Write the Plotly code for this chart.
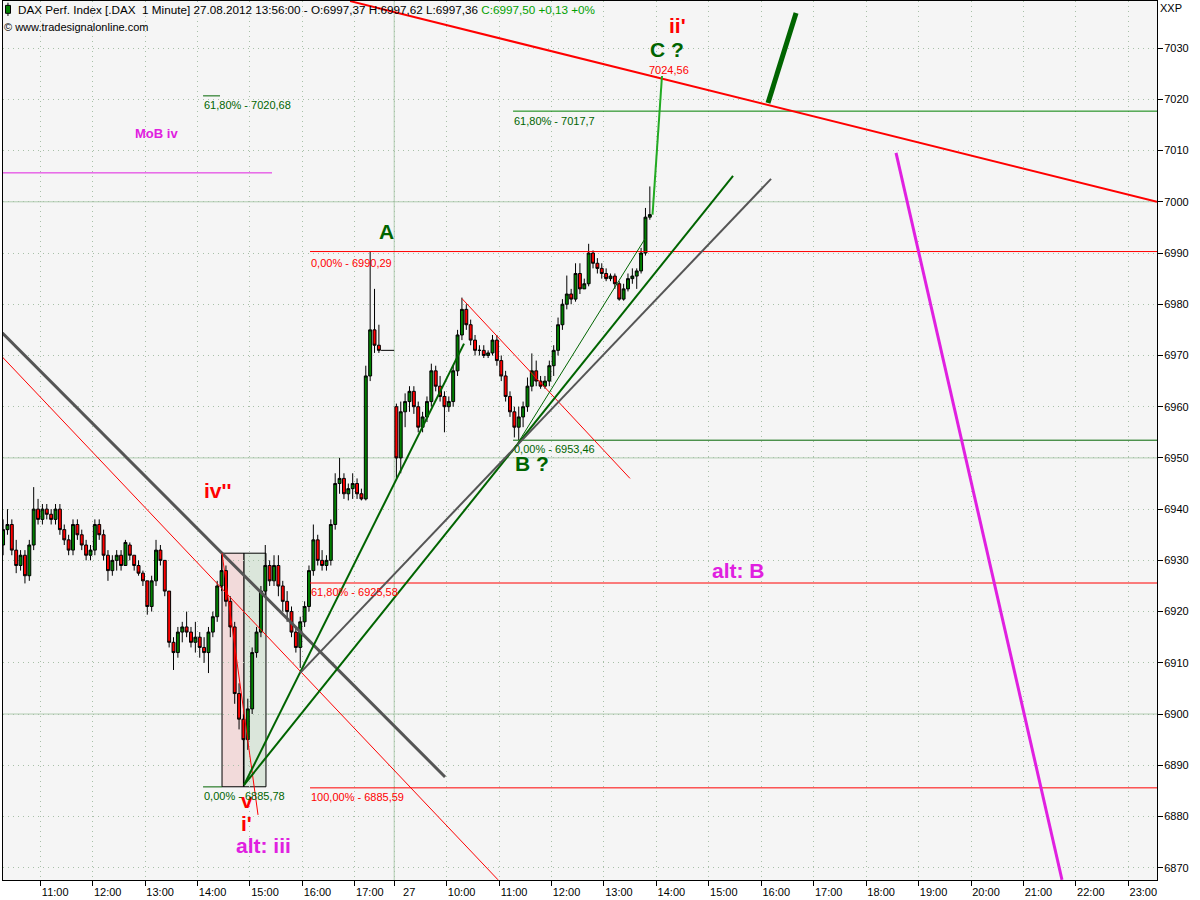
import plotly.graph_objects as go

# ---------------- data ----------------
interval_min = 5
# Friday 24.08.2012, 5-minute candles starting 10:15
day1_start = "10:15"
day1_open  = [6933,6936,6937,6932,6929,6931,6927,6933,6940,6938,6940,6939,6938,6940,6936,6934,6932,6937,6935,6933,
              6931,6932,6937,6935,6931,6928,6930,6931,6929,6933,6931,6929,6927.5,6926,6921,6926,6932,6930,6924,6914,
              6912,6916,6917,6916,6914,6915,6913,6912,6916,6919,6925,6928,6922,6917,6904,6899,6895,6901,6912,6916,
              6924,6929,6926,6929,6925,6922,6920,6916,6913,6918,6921,6928,6934,6930,6929,6930,6937,6945,6946,6943,
              6944,6945,6943,6942,6966,6975,6972,6971,6971,6971]
day1_high  = [6938,6940,6938,6934,6932,6932,6934,6944.3,6942,6941,6941,6940,6941,6941,6937,6935,6938,6938,6936,6934,
              6933,6938,6938,6936,6932,6931,6932,6932,6934,6933.5,6931,6930,6928,6926,6927,6934,6933,6930,6924,6915,
              6917,6918,6920,6917,6918,6916,6915,6917,6920,6926,6931.4,6929,6923,6918,6906,6900,6903,6913,6917,6925,
              6933,6930,6931,6931,6926,6924,6921,6917,6919,6922,6929,6937,6935,6932,6931,6938,6947,6950,6947,6945,
              6947,6946,6944,6968,6990.29,6983,6976,6971,6971,6971]
day1_low   = [6931,6935,6931,6927.5,6928,6925.5,6926,6932,6937,6937,6938,6937,6937,6935,6933,6931,6931,6934,6932,6930,
              6930,6931,6934,6930,6926,6927,6928,6928,6929,6930,6928,6927,6925,6919.4,6920,6925,6929,6923,6913,6908.6,
              6911,6914,6915,6913,6912,6911,6910,6908,6915,6918,6924,6921,6915,6902,6897,6885.8,6893,6900,6911,6915,
              6923,6925,6925,6923,6920,6918,6915,6912,6909,6917,6920,6927,6929,6928,6928,6929,6936,6943,6942,6941.7,
              6942,6942,6941.7,6941.7,6965,6970.5,6970.5,6971,6971,6971]
day1_close = [6936,6937,6932,6929,6931,6927,6933,6940,6938,6940,6939,6938,6940,6936,6934,6932,6937,6935,6933,6931,
              6932,6937,6935,6931,6928,6930,6931,6929,6933.5,6931,6929,6927.5,6926,6921,6926,6932,6930,6924,6914,6912,
              6916,6917,6916,6914,6915,6913,6912,6916,6919,6925,6928,6922,6917,6904,6899,6895,6901,6912,6916,6924,
              6929,6926,6929,6925,6922,6920,6916,6913,6918,6921,6928,6934,6930,6929,6930,6937,6945,6946,6943,6944,
              6945,6943,6942,6966,6975,6972,6971,6971,6971,6971]

# Monday 27.08.2012, 5-minute candles starting 09:00
day2_start = "09:00"
day2_open  = [6960,6950,6959,6961,6963,6960,6956,6958,6961,6967,6964,6962,6960,6961,6967,6974,6979,6976,6973,6971,
              6971,6970,6970.5,6973,6969,6966,6962,6959,6956,6958,6960,6964,6967,6965,6964,6965,6968,6971,6976,6980,
              6982,6981,6986,6983,6984,6990,6988,6987,6986,6985,6985.5,6984,6981,6983,6985,6985.5,6986.5,6990,6997]
day2_high  = [6960.6,6961,6962.6,6964,6964,6961,6959,6962,6968.4,6968,6966,6963,6962,6968,6975,6981.3,6980,6977,6974,6972,
              6972,6971,6974,6974,6970,6967,6963,6960,6960,6961,6965.7,6970.4,6969,6966,6966,6969,6972,6977.4,6981,6985.6,
              6983,6988,6988,6985,6991.8,6990.5,6989,6988,6987,6986,6986,6984.5,6984,6986,6987,6987,6991,6998.8,7003]
day2_low   = [6946,6947,6956,6959,6958.6,6955,6955,6957,6960,6963,6961,6955,6959,6960,6966,6973,6975,6972,6970,6970,
              6969.5,6969.5,6970,6968,6965,6961,6958,6954,6953.5,6956,6959,6963,6964,6963.5,6963.5,6964,6966,6970,6975,6979,
              6980,6980.5,6982,6983,6983.5,6987,6986,6985,6984.5,6984.5,6983,6980.7,6980.7,6982.5,6984,6983,6986,6989.5,6996.5]
day2_close = [6950,6959,6961,6963,6960,6956,6958,6961,6967,6964,6962,6960,6961,6967,6974,6979,6976,6973,6971,6971,
              6970,6970.5,6973,6969,6966,6962,6959,6956,6958,6960,6964,6967,6965,6964,6965,6968,6971,6976,6980,6982,
              6981,6986,6983,6984,6990,6988,6987,6986,6985,6985.5,6984,6981,6983,6985,6985.5,6986.5,6990,6997,6997.5]

# x-axis tick labels: (day, time) and label text
tick_times = [(1,"11:00"),(1,"12:00"),(1,"13:00"),(1,"14:00"),(1,"15:00"),(1,"16:00"),(1,"17:00"),
              (2,"09:00"),(2,"10:00"),(2,"11:00"),(2,"12:00"),(2,"13:00"),(2,"14:00"),(2,"15:00"),(2,"16:00"),
              (2,"17:00"),(2,"18:00"),(2,"19:00"),(2,"20:00"),(2,"21:00"),(2,"22:00"),(2,"23:00")]
tick_labels = ["11:00","12:00","13:00","14:00","15:00","16:00","17:00","27","10:00","11:00","12:00","13:00",
               "14:00","15:00","16:00","17:00","18:00","19:00","20:00","21:00","22:00","23:00"]

price_ticks = [6870,6880,6890,6900,6910,6920,6930,6940,6950,6960,6970,6980,6990,7000,7010,7020,7030]
round_levels = [6900, 6950, 7000]

# ---------------- session time axis ----------------
CHART_ORIGIN = 10*60 + 14      # 24.08 10:14 = session minute 0
DAY2_OFFSET = 451              # 27.08 09:00 = session minute 451
def sm(day, hhmm):
    h, m = map(int, hhmm.split(":"))
    t = h*60 + m
    return t - CHART_ORIGIN if day == 1 else DAY2_OFFSET + t - 9*60

X_MIN, X_MAX = 3.4, 1323.8
Y_MIN, Y_MAX = 6867.6, 7039.2

x1 = [sm(1, day1_start) + interval_min*i + 2.5 for i in range(len(day1_open))]
x2 = [sm(2, day2_start) + interval_min*i + 2.5 for i in range(len(day2_open))]

GREEN = "#006400"
RED = "#ff0000"
MAG = "#e020e0"
GREY = "#555555"
FONT = "Liberation Sans"

fig = go.Figure()
# flat index value after the close of day 1 (drawn as a line up to the day break)
n_flat = 3
fig.add_trace(go.Scatter(x=[x1[-n_flat] - 2.5, DAY2_OFFSET], y=[day1_close[-1], day1_close[-1]],
                         mode="lines", line=dict(color="black", width=1), showlegend=False, hoverinfo="skip"))
fig.add_trace(go.Candlestick(
    x=x1[:-n_flat] + x2,
    open=day1_open[:-n_flat] + day2_open, high=day1_high[:-n_flat] + day2_high,
    low=day1_low[:-n_flat] + day2_low, close=day1_close[:-n_flat] + day2_close,
    increasing=dict(line=dict(color="black", width=1), fillcolor="#008000"),
    decreasing=dict(line=dict(color="black", width=1), fillcolor="#ff0000"),
    whiskerwidth=0, showlegend=False, hoverinfo="skip"))

# analyst drawings: (x0, p0, x1, p1, colour, width)
trend_lines = [
    (400.5, 7039.18, 1323.8, 7000.0, RED, 2),
    (0.0, 6974.85, 509.2, 6887.72, GREY, 3),
    (0.0, 6970.18, 569.8, 6867.64, RED, 1),
    (254.0, 6931.38, 295.2, 6880.31, RED, 1),
    (528.6, 6981.09, 720.8, 6946.0, RED, 1),
    (279.2, 6886.16, 530.9, 6972.32, GREEN, 2),
    (279.2, 6886.16, 838.7, 7005.07, GREEN, 2),
    (585.8, 6951.07, 738.0, 6992.79, GREEN, 1),
    (343.2, 6907.99, 882.2, 7004.48, GREY, 2),
    (1025.2, 7009.55, 1215.1, 6867.64, MAG, 3),
    (878.7, 7019.30, 910.8, 7036.84, GREEN, 5),
    (746.6, 6997.5, 757.4, 7024.56, "#22aa22", 2),
]
# horizontal levels: (price, x0, x1 or None for right edge, colour)
levels = [
    (7017.7, 587.0, None, "#008000"),
    (7020.68, 232.3, 251.7, GREEN),
    (7005.65, 0.0, 311.2, MAG),
    (6990.29, 354.7, None, RED),
    (6925.58, 354.7, None, RED),
    (6885.59, 354.7, None, RED),
    (6885.78, 232.3, 254.0, GREEN),
    (6953.46, 587.0, None, GREEN),
]
# boxes: (x0, x1, p0, p1, fill)
boxes = [(254.0, 279.2, 6885.8, 6931.4, "#f2dada"), (279.2, 304.3, 6885.8, 6931.4, "#dbe6db")]

for p in round_levels:
    fig.add_shape(type="line", x0=X_MIN, x1=X_MAX, y0=p, y1=p, line=dict(color="#b0ccb0", width=1), layer="below")
fig.add_shape(type="line", x0=DAY2_OFFSET, x1=DAY2_OFFSET, y0=Y_MIN, y1=Y_MAX,
              line=dict(color="#b0ccb0", width=1), layer="below")
for bx0, bx1, p0, p1, fc in boxes:
    fig.add_shape(type="rect", x0=bx0, x1=bx1, y0=p0, y1=p1, fillcolor=fc, line=dict(color="black", width=1), layer="below")
for p, lx0, lx1, c in levels:
    fig.add_shape(type="line", x0=lx0, x1=(X_MAX if lx1 is None else lx1), y0=p, y1=p, line=dict(color=c, width=1))
for a, b, c, d, col, w in trend_lines:
    fig.add_shape(type="line", x0=a, y0=b, x1=c, y1=d, line=dict(color=col, width=w))

# labels: (text, x, price, colour, size, bold, anchor)
labels = [
    ("A", 442.2, 6994.2, GREEN, 21, True, "center"),
    ("B ?", 608.7, 6948.9, GREEN, 21, True, "center"),
    ("C ?", 763.2, 7029.8, GREEN, 21, True, "center"),
    ("ii'", 774.6, 7034.5, RED, 21, True, "center"),
    ("iv''", 249.4, 6943.7, RED, 21, True, "center"),
    ("v", 282.6, 6883.2, RED, 21, True, "center"),
    ("i'", 281.5, 6878.6, RED, 21, True, "center"),
    ("alt: iii", 302.0, 6874.3, MAG, 21, True, "center"),
    ("alt: B", 844.4, 6928.1, MAG, 21, True, "center"),
    ("MoB iv", 179.6, 7013.35, MAG, 13, True, "center"),
    ("7024,56", 765.4, 7025.7, RED, 11, False, "center"),
    ("61,80% - 7020,68", 232.3, 7018.9, GREEN, 11, False, "left"),
    ("61,80% - 7017,7", 587.0, 7015.8, GREEN, 11, False, "left"),
    ("0,00% - 6990,29", 354.7, 6988.1, RED, 11, False, "left"),
    ("61,80% - 6925,58", 354.7, 6923.8, RED, 11, False, "left"),
    ("100,00% - 6885,59", 354.7, 6883.8, RED, 11, False, "left"),
    ("0,00% - 6885,78", 232.3, 6884.0, GREEN, 11, False, "left"),
    ("0,00% - 6953,46", 587.0, 6951.7, GREEN, 11, False, "left"),
]
for t, lx, lp, col, sz, bold, anc in labels:
    fig.add_annotation(x=lx, y=lp, text=(f"<b>{t}</b>" if bold else t), showarrow=False,
                       xanchor=anc, yanchor="middle", font=dict(family=FONT, size=sz, color=col),
                       borderpad=0)

# header
fig.add_annotation(xref="paper", yref="paper", x=0.0121, y=0.999, xanchor="left", yanchor="top", showarrow=False,
                   text="DAX Perf. Index [.DAX  1 Minute] 27.08.2012 13:56:00 - O:6997,37 H:6997,62 L:6997,36 "
                        "<span style='color:#00a000'>C:6997,50 +0,13 +0%</span>",
                   font=dict(family=FONT, size=11.7, color="black"), borderpad=0)
fig.add_annotation(xref="paper", yref="paper", x=0.0, y=0.978, xanchor="left", yanchor="top", showarrow=False,
                   text="© www.tradesignalonline.com", font=dict(family=FONT, size=11, color="black"), borderpad=0)
fig.add_annotation(xref="paper", yref="paper", x=1.002, y=1.0, xanchor="left", yanchor="top", showarrow=False,
                   text="XXP", font=dict(family=FONT, size=11, color="black"), borderpad=0)
# little candle icon in header
fig.add_shape(type="line", xref="paper", yref="paper", x0=0.0043, x1=0.0043, y0=0.983, y1=0.998,
              line=dict(color="black", width=1))
fig.add_shape(type="rect", xref="paper", yref="paper", x0=0.0022, x1=0.0065, y0=0.986, y1=0.995,
              fillcolor="#008000", line=dict(color="black", width=1))

grid_dash = "1px,4px"
fig.update_layout(
    width=1200, height=900,
    margin=dict(l=3, r=43, t=1, b=20),
    paper_bgcolor="white", plot_bgcolor="#f5f5f5",
    showlegend=False, boxgap=0.05,
    xaxis=dict(range=[X_MIN, X_MAX], rangeslider=dict(visible=False),
               tickmode="array", tickvals=[sm(d, t) for d, t in tick_times], ticktext=tick_labels,
               ticks="outside", ticklen=5, tickcolor="black", ticklabelshift=15, ticklabelstandoff=-3,
               tickfont=dict(family=FONT, size=11, color="black"),
               showgrid=True, gridcolor="#a8c0a8", griddash=grid_dash, gridwidth=1,
               showline=True, linecolor="black", linewidth=1, mirror=True, zeroline=False),
    yaxis=dict(range=[Y_MIN, Y_MAX], side="right", tickmode="array", tickvals=price_ticks,
               ticktext=[str(v) for v in price_ticks],
               ticks="outside", ticklen=5, tickcolor="black", ticklabelstandoff=-1,
               tickfont=dict(family=FONT, size=11, color="black"),
               showgrid=True, gridcolor="#a8c0a8", griddash=grid_dash, gridwidth=1,
               showline=True, linecolor="black", linewidth=1, mirror=True, zeroline=False),
)

fig.write_html("out.html", config={"displayModeBar": False},
               post_script="document.body.style.margin='0';")
